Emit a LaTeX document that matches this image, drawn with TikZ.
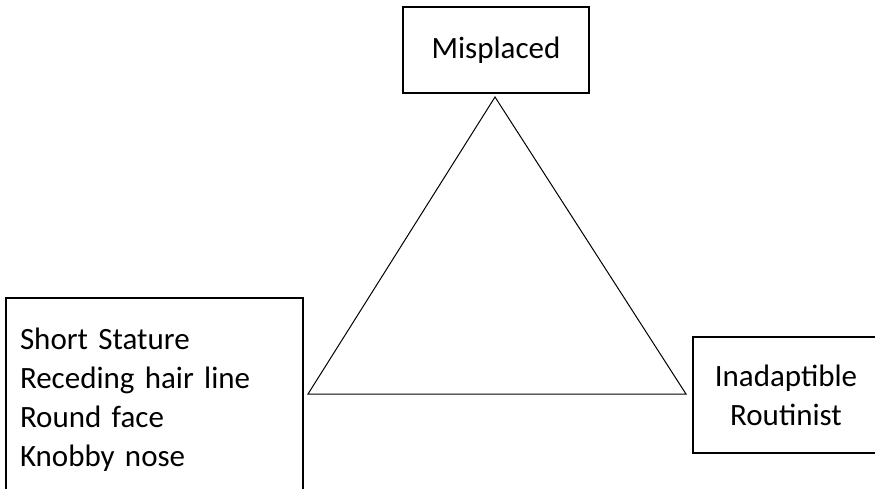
\documentclass[tikz,border=0pt]{standalone}
\usepackage{fontspec}
\setmainfont{Carlito}
\usepackage{tikz}

\begin{document}
\begin{tikzpicture}[x=1pt,y=-1pt,
  box/.style={draw,line width=1.4pt,inner sep=0pt,
    font=\fontsize{31}{39}\selectfont}]
\useasboundingbox (0,0) rectangle (875,488);

\node[box,minimum width=186pt,minimum height=86pt] (misplaced) at (496,50) {Misplaced};
\node[box,minimum width=297pt,minimum height=204pt,text width=269pt,align=left] (traits) at (154.5,400) {Short Stature\\Receding hair line\\Round face\\Knobby nose};
\node[box,minimum width=186pt,minimum height=116pt,align=center] (routinist) at (786,395) {Inadaptible\\Routinist};

\coordinate (top) at (495,97);
\coordinate (left) at (308,394);
\coordinate (right) at (686,394);

 \draw[line width=1pt] (top) -- (left) -- (right) -- cycle;

\end{tikzpicture}
\end{document}
